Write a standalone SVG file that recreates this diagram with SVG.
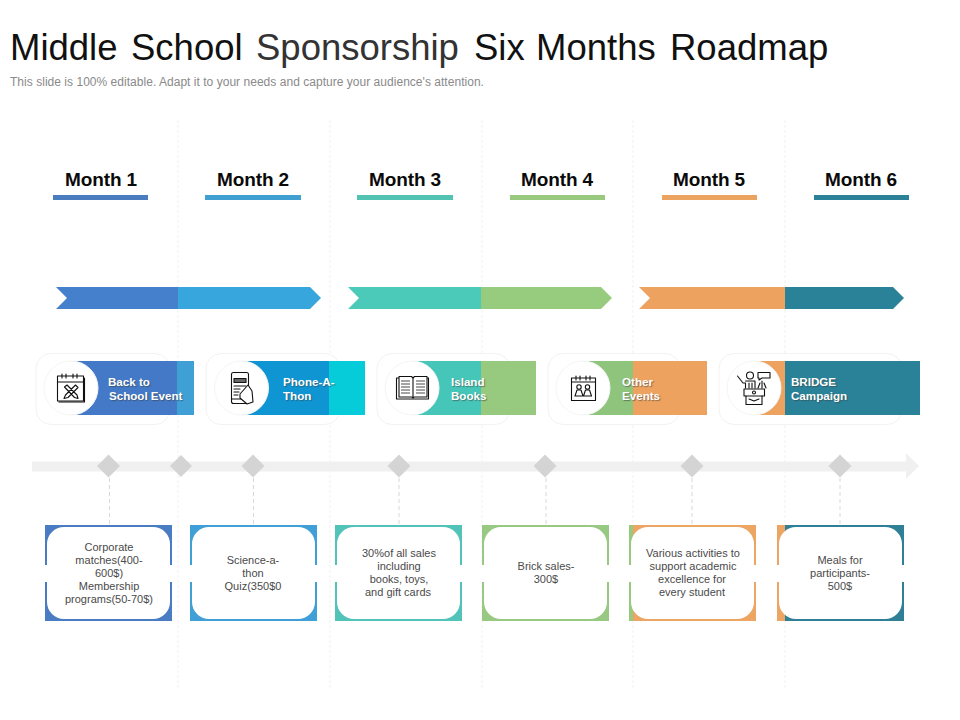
<svg xmlns="http://www.w3.org/2000/svg" width="960" height="720" viewBox="0 0 960 720">
<style>
text{font-family:"Liberation Sans",Arial,sans-serif}
.title{font-size:36.5px;fill:#111}
.sub{font-size:12px;fill:#8a8a8a;letter-spacing:.03px}
.month{font-size:19px;font-weight:bold;fill:#0a0a0a;text-anchor:middle;letter-spacing:-.1px}
.bn{font-size:11.600px;font-weight:bold;fill:#fff;text-shadow:1px 1px 1px rgba(60,60,60,.55)}
.bx{font-size:11px;fill:#4a4a4a;text-anchor:middle}
.grid{stroke:#f1f1f1;stroke-width:1;stroke-dasharray:3 2;fill:none}
.stem{stroke:#d8d8d8;stroke-width:1;stroke-dasharray:4 3;fill:none}
.card{fill:#fff;stroke:#f2f2f2;stroke-width:1}
.disc{fill:#fff;stroke:#f5f5f5;stroke-width:1}
.ico{fill:none;stroke:#111;stroke-width:1.100;stroke-linejoin:round;stroke-linecap:round}
.ico2{fill:none;stroke:#333;stroke-width:.9}
.dia{fill:#d4d4d4}
.inner{fill:#fff}
.c1{fill:#4580cc}.c2{fill:#37a6dc}.c3{fill:#4bcaba}.c4{fill:#97cb7e}.c5{fill:#eda25f}.c6{fill:#2a8299}
</style>
<rect width="960" height="720" fill="#fff"/>
<g id="title">
<text class="title" x="10" y="60">Middle</text>
<text class="title" x="131" y="60">School</text>
<text class="title" x="256" y="60" style="fill:#333">Sponsorship</text>
<text class="title" x="474" y="60">Six</text>
<text class="title" x="536" y="60">Months</text>
<text class="title" x="670" y="60">Roadmap</text>
<text class="sub" x="10" y="86">This slide is 100% editable. Adapt it to your needs and capture your audience's attention.</text>
</g>
<g id="gridlines">
<path class="grid" d="M178 120V688M330 120V688M482 120V688M633 120V688M785 120V688"/>
</g>
<g id="months">
<g id="month1"><text class="month" x="101" y="186">Month 1</text><rect x="53" y="195" width="95" height="5" fill="#4a7cc0"/></g>
<g id="month2"><text class="month" x="253" y="186">Month 2</text><rect x="205" y="195" width="96" height="5" fill="#3f9fd0"/></g>
<g id="month3"><text class="month" x="405" y="186">Month 3</text><rect x="357" y="195" width="96" height="5" fill="#52c3b3"/></g>
<g id="month4"><text class="month" x="557" y="186">Month 4</text><rect x="510" y="195" width="95" height="5" fill="#98c97f"/></g>
<g id="month5"><text class="month" x="709" y="186">Month 5</text><rect x="662" y="195" width="95" height="5" fill="#eca35f"/></g>
<g id="month6"><text class="month" x="861" y="186">Month 6</text><rect x="814" y="195" width="95" height="5" fill="#2b8197"/></g>
</g>
<g id="chevrons">
<path class="c1" d="M56 287H178V309H56L67 298Z"/>
<path class="c2" d="M178 287H310L321 298L310 309H178Z"/>
<path class="c3" d="M348 287H481V309H348L359 298Z"/>
<path class="c4" d="M481 287H601L612 298L601 309H481Z"/>
<path class="c5" d="M639 287H785V309H639L650 298Z"/>
<path class="c6" d="M785 287H893L904 298L893 309H785Z"/>
</g>
<g id="timeline">
<path fill="#f0f0f0" d="M32 461.500H906V453L919 466L906 479V471.500H32Z"/>
</g>
<g id="connectors">
<path class="stem" d="M109.500 478V525M253.500 478V525M399 478V525M546 478V525M692 478V525M840 478V525"/>
</g>
<g id="markers">
<path class="dia" d="M108.500 454.500L120 466L108.500 477.500L97 466Z"/>
<path class="dia" d="M181 455L192 466L181 477L170 466Z"/>
<path class="dia" d="M253 454.500L264.500 466L253 477.500L241.500 466Z"/>
<path class="dia" d="M399 454.500L410.500 466L399 477.500L387.500 466Z"/>
<path class="dia" d="M545 454.500L556.500 466L545 477.500L533.500 466Z"/>
<path class="dia" d="M692 454.500L703.500 466L692 477.500L680.500 466Z"/>
<path class="dia" d="M840 454.500L851.500 466L840 477.500L828.500 466Z"/>
</g>
<g id="banner1">
<rect class="card" x="36" y="353.500" width="134" height="71" rx="15"/>
<rect x="71" y="361" width="106" height="54" fill="#4379c6"/>
<rect x="177" y="361" width="17" height="54" fill="#3fa0d6"/>
<circle class="disc" cx="71" cy="388" r="27"/>
<g class="ico">
<rect x="57.500" y="376" width="26" height="25"/><path d="M84.500 378V402H59"/><path d="M57.500 382H83.500"/>
<path d="M62 374V378M66 374V378M73 374V378M77 374V378"/>
<path d="M64.500 387L67 385L77 395L78 398.500L74.500 397.500ZM75.500 385L78 387.500L68 397.500L64 398.500L65.500 395Z" fill="#fff"/>
</g>
<text class="bn" x="108" y="386">Back to</text>
<text class="bn" x="109" y="400">School Event</text>
</g>
<g id="banner2">
<rect class="card" x="206" y="353.500" width="134" height="71" rx="15"/>
<rect x="241" y="361" width="88" height="54" fill="#1095d3"/>
<rect x="329" y="361" width="36" height="54" fill="#06cbd9"/>
<circle class="disc" cx="241.500" cy="388" r="27"/>
<g class="ico">
<rect x="231.500" y="372.500" width="17" height="31" rx="2"/>
<rect x="234" y="378.500" width="12" height="4" fill="#666"/>
<path d="M234 386H246M234 389H240M234 392H239M234 395H238M231.500 399H241"/>
<path d="M240 394L248 385L252 391L253 402L247 404L240 398Z" fill="#fff"/>
</g>
<text class="bn" x="283" y="386">Phone-A-</text>
<text class="bn" x="283" y="400">Thon</text>
</g>
<g id="banner3">
<rect class="card" x="377" y="353.500" width="133" height="71" rx="15"/>
<rect x="412" y="361" width="69" height="54" fill="#46c6b8"/>
<rect x="481" y="361" width="55" height="54" fill="#97c97e"/>
<circle class="disc" cx="412" cy="388" r="27"/>
<g class="ico">
<rect x="396.500" y="378" width="32" height="21"/>
<path d="M399 376.500H411.500L413 378L414.500 376.500H427V397H414L413 398L412 397H399Z" fill="#fff"/>
<path d="M413 378V397"/>
</g>
<path class="ico2" d="M401 381H410M401 384H410M401 387H410M401 390H410M401 393H410M416 381H425M416 384H425M416 387H425M416 390H425M416 393H425"/>
<text class="bn" x="451" y="386">Island</text>
<text class="bn" x="451" y="400">Books</text>
</g>
<g id="banner4">
<rect class="card" x="548" y="353.500" width="132" height="71" rx="15"/>
<rect x="583" y="361" width="50" height="54" fill="#8fc47c"/>
<rect x="633" y="361" width="74" height="54" fill="#eda25f"/>
<circle class="disc" cx="583" cy="388" r="27"/>
<g class="ico">
<rect x="571.500" y="378" width="24" height="22.500"/>
<path d="M571.500 382H595.500M576 376V380M580 376V380M586 376V380M590 376V380"/>
<circle cx="579" cy="387" r="2.200"/><circle cx="587.500" cy="387" r="2.200"/>
<path d="M575 396L577 390H581L583 396ZM583.500 396L585.500 390H589.500L591.500 396Z"/>
</g>
<text class="bn" x="622" y="386">Other</text>
<text class="bn" x="622" y="400">Events</text>
</g>
<g id="banner5">
<rect class="card" x="719" y="353.500" width="183" height="71" rx="15"/>
<rect x="754" y="361" width="31" height="54" fill="#eda25f"/>
<rect x="785" y="361" width="135" height="54" fill="#2a8299"/>
<circle class="disc" cx="754" cy="388" r="27"/>
<g class="ico">
<circle cx="750" cy="375.500" r="3.500"/>
<path d="M737.500 376L743 383H745.500V388M745.500 381H755V388M749 383V388M752 383V388"/>
<rect x="744" y="389" width="20.500" height="7"/>
<circle cx="754" cy="392.500" r="1.500"/>
<path d="M746 396V404.500H762V396M749 399L754 401L759 399"/>
<path d="M758 372.500H770V378H762L759 380V378H758Z"/>
<path d="M758 388L760 383M762 388V381M766 388L764 383"/>
</g>
<text class="bn" x="791" y="386">BRIDGE</text>
<text class="bn" x="791" y="400">Campaign</text>
</g>
<g id="box1">
<rect x="45" y="525" width="127" height="96" fill="#4a7cc4"/>
<rect class="inner" x="47" y="527" width="123" height="92" rx="17"/>
<rect class="inner" x="44" y="565" width="129" height="17"/>
<text class="bx" x="109" y="551">Corporate</text>
<text class="bx" x="109" y="564">matches(400-</text>
<text class="bx" x="109" y="577">600$)</text>
<text class="bx" x="109" y="590">Membership</text>
<text class="bx" x="109" y="603">programs(50-70$)</text>
</g>
<g id="box2">
<rect x="190" y="525" width="127" height="96" fill="#3f9fd6"/>
<rect class="inner" x="192" y="527" width="123" height="92" rx="17"/>
<rect class="inner" x="189" y="565" width="129" height="17"/>
<text class="bx" x="253" y="564">Science-a-</text>
<text class="bx" x="253" y="577">thon</text>
<text class="bx" x="253" y="590">Quiz(350$0</text>
</g>
<g id="box3">
<rect x="335" y="525" width="127" height="96" fill="#52c3b8"/>
<rect class="inner" x="337" y="527" width="123" height="92" rx="17"/>
<rect class="inner" x="334" y="565" width="129" height="17"/>
<text class="bx" x="399" y="557">30%of all sales</text>
<text class="bx" x="399" y="570">including</text>
<text class="bx" x="399" y="583">books, toys,</text>
<text class="bx" x="398" y="596">and gift cards</text>
</g>
<g id="box4">
<rect x="482" y="525" width="127" height="96" fill="#98c983"/>
<rect class="inner" x="484" y="527" width="123" height="92" rx="17"/>
<rect class="inner" x="481" y="565" width="129" height="17"/>
<text class="bx" x="546" y="570">Brick sales-</text>
<text class="bx" x="546" y="583">300$</text>
</g>
<g id="box5">
<rect x="629" y="525" width="127" height="96" fill="#eca562"/>
<rect x="629" y="525" width="4" height="96" fill="#97c97e"/>
<rect class="inner" x="631" y="527" width="123" height="92" rx="17"/>
<rect class="inner" x="628" y="565" width="129" height="17"/>
<text class="bx" x="693" y="557">Various activities to</text>
<text class="bx" x="693" y="570">support academic</text>
<text class="bx" x="692" y="583">excellence for</text>
<text class="bx" x="692" y="596">every student</text>
</g>
<g id="box6">
<rect x="777" y="525" width="127" height="96" fill="#2f7f96"/>
<rect x="777" y="525" width="8" height="96" fill="#eca562"/>
<rect class="inner" x="779" y="527" width="123" height="92" rx="17"/>
<rect class="inner" x="776" y="565" width="129" height="17"/>
<text class="bx" x="840" y="564">Meals for</text>
<text class="bx" x="840" y="577">participants-</text>
<text class="bx" x="840" y="590">500$</text>
</g>
</svg>
